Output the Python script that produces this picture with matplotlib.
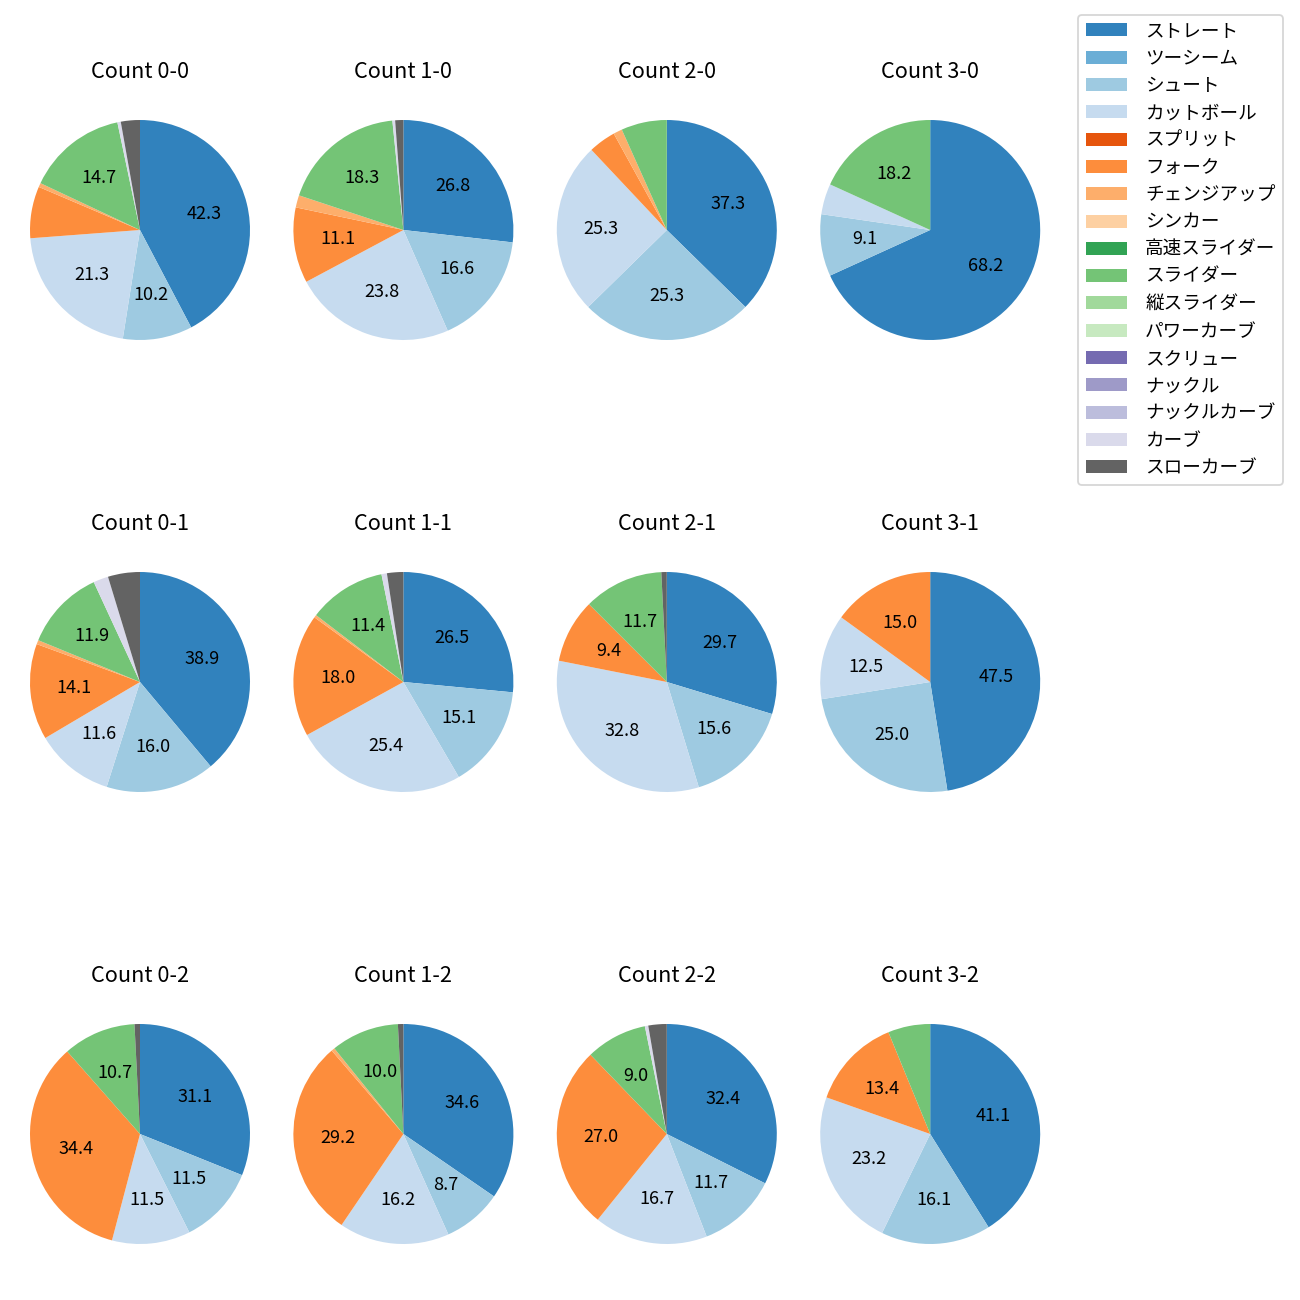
import numpy as np
import matplotlib
matplotlib.use("Agg")
import matplotlib.pyplot as plt
from matplotlib.patches import Patch

plt.rcParams['font.family'] = ['Noto Sans CJK JP', 'DejaVu Sans']

pitch_types = ["ストレート", "ツーシーム", "シュート", "カットボール", "スプリット",
               "フォーク", "チェンジアップ", "シンカー", "高速スライダー", "スライダー",
               "縦スライダー", "パワーカーブ", "スクリュー", "ナックル", "ナックルカーブ",
               "カーブ", "スローカーブ"]

counts = ["0-0", "1-0", "2-0", "3-0",
          "0-1", "1-1", "2-1", "3-1",
          "0-2", "1-2", "2-2", "3-2"]

# share (%) of each pitch type, same order as pitch_types
c00 = [42.3, 0, 10.2, 21.3, 0, 7.6, 0.6, 0, 0, 14.7, 0, 0, 0, 0, 0, 0.5, 2.8]
c10 = [26.8, 0, 16.6, 23.8, 0, 11.1, 1.8, 0, 0, 18.3, 0, 0, 0, 0, 0, 0.4, 1.2]
c20 = [37.3, 0, 25.3, 25.3, 0, 4.0, 1.3, 0, 0, 6.7, 0, 0, 0, 0, 0, 0, 0]
c30 = [68.2, 0, 9.1, 4.5, 0, 0, 0, 0, 0, 18.2, 0, 0, 0, 0, 0, 0, 0]
c01 = [38.9, 0, 16.0, 11.6, 0, 14.1, 0.6, 0, 0, 11.9, 0, 0, 0, 0, 0, 2.2, 4.7]
c11 = [26.5, 0, 15.1, 25.4, 0, 18.0, 0.4, 0, 0, 11.4, 0, 0, 0, 0, 0, 0.8, 2.4]
c21 = [29.7, 0, 15.6, 32.8, 0, 9.4, 0, 0, 0, 11.7, 0, 0, 0, 0, 0, 0, 0.8]
c31 = [47.5, 0, 25.0, 12.5, 0, 15.0, 0, 0, 0, 0, 0, 0, 0, 0, 0, 0, 0]
c02 = [31.1, 0, 11.5, 11.5, 0, 34.4, 0, 0, 0, 10.7, 0, 0, 0, 0, 0, 0, 0.8]
c12 = [34.6, 0, 8.7, 16.2, 0, 29.2, 0.5, 0, 0, 10.0, 0, 0, 0, 0, 0, 0, 0.8]
c22 = [32.4, 0, 11.7, 16.7, 0, 27.0, 0, 0, 0, 9.0, 0, 0, 0, 0, 0, 0.5, 2.7]
c32 = [41.1, 0, 16.1, 23.2, 0, 13.4, 0, 0, 0, 6.2, 0, 0, 0, 0, 0, 0, 0]

shares = [c00, c10, c20, c30, c01, c11, c21, c31, c02, c12, c22, c32]

colors = plt.get_cmap("tab20c")(np.arange(len(pitch_types)))

fig = plt.figure(figsize=(10, 10), dpi=130)
W = H = 1300.0
box = 275.0  # axes box in px, pie radius = box/2.5

def autopct(p):
    return f"{p:.1f}" if p >= 8 else ""

for i, (cnt, vals) in enumerate(zip(counts, shares)):
    r, c = divmod(i, 4)
    cx = 140 + 263.4 * c
    cy = 230 + 452 * r
    ax = fig.add_axes([(cx - box / 2) / W, 1 - (cy + box / 2) / H, box / W, box / H])
    vals = np.array(vals)
    keep = vals > 0
    ax.pie(vals[keep], colors=colors[keep], startangle=90, counterclock=False,
           autopct=autopct, textprops={'fontsize': 10})
    ax.set_title(f"Count {cnt}", fontsize=12, pad=8)

handles = [Patch(facecolor=colors[k], label=pitch_types[k]) for k in range(len(pitch_types))]
fig.legend(handles=handles, loc="upper right", bbox_to_anchor=(1283 / W, 1 - 15 / H),
           borderaxespad=0, fontsize=10.3, handlelength=2.2, handletextpad=1.0)

fig.savefig("out.png", dpi=130)
